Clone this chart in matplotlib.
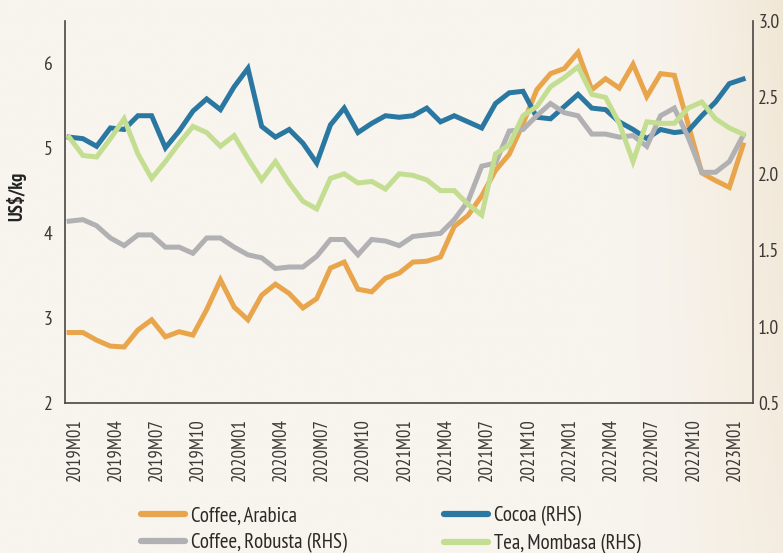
import numpy as np
import matplotlib
matplotlib.use('Agg')
import matplotlib.pyplot as plt
from matplotlib import font_manager

# ---------------- data ----------------
tick_labels = ['2019M01', '2019M04', '2019M07', '2019M10', '2020M01', '2020M04',
               '2020M07', '2020M10', '2021M01', '2021M04', '2021M07', '2021M10',
               '2022M01', '2022M04', '2022M07', '2022M10', '2023M01']

arabica = [2.83, 2.83, 2.74, 2.67, 2.66, 2.86, 2.98, 2.78, 2.84, 2.80,
           3.10, 3.45, 3.13, 2.98, 3.27, 3.40, 3.29, 3.12, 3.23, 3.59,
           3.66, 3.34, 3.31, 3.47, 3.53, 3.66, 3.67, 3.72, 4.08, 4.21,
           4.44, 4.74, 4.93, 5.29, 5.69, 5.88, 5.94, 6.13, 5.69, 5.82,
           5.71, 5.99, 5.61, 5.88, 5.86, 5.29, 4.71, 4.62, 4.54, 5.04]

cocoa = [2.24, 2.23, 2.18, 2.30, 2.29, 2.38, 2.38, 2.17, 2.28, 2.41,
         2.49, 2.42, 2.57, 2.69, 2.31, 2.24, 2.29, 2.20, 2.07, 2.32,
         2.43, 2.27, 2.33, 2.38, 2.37, 2.38, 2.43, 2.34, 2.38, 2.34,
         2.30, 2.46, 2.53, 2.54, 2.37, 2.36, 2.44, 2.52, 2.43, 2.42,
         2.34, 2.29, 2.23, 2.29, 2.27, 2.28, 2.38, 2.47, 2.59, 2.62]

robusta = [1.69, 1.70, 1.66, 1.58, 1.53, 1.60, 1.60, 1.52, 1.52, 1.48,
           1.58, 1.58, 1.52, 1.47, 1.45, 1.38, 1.39, 1.39, 1.46, 1.57,
           1.57, 1.47, 1.57, 1.56, 1.53, 1.59, 1.60, 1.61, 1.70, 1.82,
           2.05, 2.07, 2.28, 2.29, 2.38, 2.46, 2.40, 2.38, 2.26, 2.26,
           2.24, 2.25, 2.18, 2.38, 2.43, 2.24, 2.01, 2.01, 2.08, 2.25]

tea = [2.24, 2.12, 2.11, 2.23, 2.36, 2.13, 1.97, 2.08, 2.20, 2.31,
       2.27, 2.18, 2.25, 2.10, 1.96, 2.08, 1.94, 1.82, 1.77, 1.97,
       2.00, 1.94, 1.95, 1.90, 2.00, 1.99, 1.96, 1.89, 1.89, 1.80,
       1.73, 2.13, 2.19, 2.38, 2.44, 2.57, 2.63, 2.70, 2.52, 2.50,
       2.33, 2.08, 2.34, 2.33, 2.33, 2.43, 2.47, 2.36, 2.30, 2.26]

series_names = ['Coffee, Arabica', 'Cocoa (RHS)', 'Coffee, Robusta (RHS)', 'Tea, Mombasa (RHS)']

# ---------------- style ----------------
installed = {f.name for f in font_manager.fontManager.ttflist}
FONT = 'DejaVu Sans'
for cand in ['PT Sans Narrow', 'Fira Sans Condensed', 'Roboto Condensed', 'Liberation Sans Narrow']:
    if cand in installed:
        FONT = cand
        break
plt.rcParams['font.family'] = [FONT, 'DejaVu Sans']
if FONT != 'DejaVu Sans':
    plt.rcParams['font.stretch'] = 'condensed'

C_ARA = '#E8A54B'
C_COC = '#2A78A2'
C_ROB = '#B1B1B3'
C_TEA = '#C4DE91'
TXT = '#3b3835'
SPINE = '#4a4643'
LW = 3.6

fig = plt.figure(figsize=(7.83, 5.53), dpi=100)
fig.patch.set_facecolor('#F8F4EE')

# subtle beige gradient on the right side of the background
bg = fig.add_axes([0, 0, 1, 1], zorder=-10)
w, h = 400, 100
xx = np.linspace(0, 1, w)[None, :].repeat(h, 0)
yy = np.linspace(1, 0, h)[:, None].repeat(w, 1)
t = np.clip((xx - 0.78) / 0.22, 0, 1) ** 1.6 * (0.6 + 0.4 * yy)
c0 = np.array([248, 244, 238]) / 255
c1 = np.array([241, 231, 214]) / 255
img = c0[None, None, :] * (1 - t[..., None]) + c1[None, None, :] * t[..., None]
bg.imshow(img, aspect='auto', extent=[0, 1, 0, 1])
bg.set_axis_off()

ax = fig.add_axes([65 / 783, 1 - 403 / 553, (752.7 - 65) / 783, (403 - 21) / 553])
ax.set_facecolor('none')
ax2 = ax.twinx()

x = np.arange(len(arabica))
l_ara, = ax.plot(x, arabica, color=C_ARA, lw=LW, solid_joinstyle='miter', label=series_names[0])
l_coc, = ax2.plot(x, cocoa, color=C_COC, lw=LW, solid_joinstyle='miter', label=series_names[1])
l_rob, = ax2.plot(x, robusta, color=C_ROB, lw=LW, solid_joinstyle='miter', label=series_names[2])
l_tea, = ax2.plot(x, tea, color=C_TEA, lw=LW, solid_joinstyle='miter', label=series_names[3])

ax.set_xlim(-0.3, 49.7)
ax.set_ylim(2, 6.5)
ax2.set_ylim(0.5, 3.0)
ax.set_yticks([2, 3, 4, 5, 6])
ax.set_yticklabels(['2', '3', '4', '5', '6'])
ax2.set_yticks([0.5, 1.0, 1.5, 2.0, 2.5, 3.0])
ax2.set_yticklabels(['0.5', '1.0', '1.5', '2.0', '2.5', '3.0'])

ax.set_xticks(np.arange(0, 49, 3) + 0.4)
ax.set_xticklabels(tick_labels, rotation=90, va='top', ha='center')

ax.tick_params(axis='x', length=0, pad=11, labelsize=13.5, colors=TXT)
ax.tick_params(axis='y', length=0, pad=9, labelsize=14, colors=TXT)
ax2.tick_params(axis='y', length=0, pad=4, labelsize=14, colors=TXT)

for a in (ax, ax2):
    a.spines['top'].set_visible(False)
    for s in ('left', 'right', 'bottom'):
        a.spines[s].set_color(SPINE)
        a.spines[s].set_linewidth(1.2)
ax.spines['right'].set_visible(False)
ax2.spines['left'].set_visible(False)
ax2.spines['bottom'].set_visible(False)

ax.set_ylabel('US$/kg', fontsize=13.5, fontweight='bold', color='#222222')
ax.yaxis.set_label_coords(-0.056, 0.54)

leg = fig.legend([l_ara, l_rob, l_coc, l_tea],
                 [series_names[0], series_names[2], series_names[1], series_names[3]],
                 ncol=2, loc='upper left', bbox_to_anchor=(141 / 783, 1 - 506 / 553),
                 frameon=False, fontsize=15, handlelength=2.1, handletextpad=0.3,
                 columnspacing=4.65, labelspacing=0.36, borderpad=0, borderaxespad=0)
for txt in leg.get_texts():
    txt.set_color('#2b2826')
for ln in leg.get_lines():
    ln.set_linewidth(4.5)
    ln.set_solid_capstyle('round')

fig.savefig('out.png', dpi=100, facecolor=fig.get_facecolor())
